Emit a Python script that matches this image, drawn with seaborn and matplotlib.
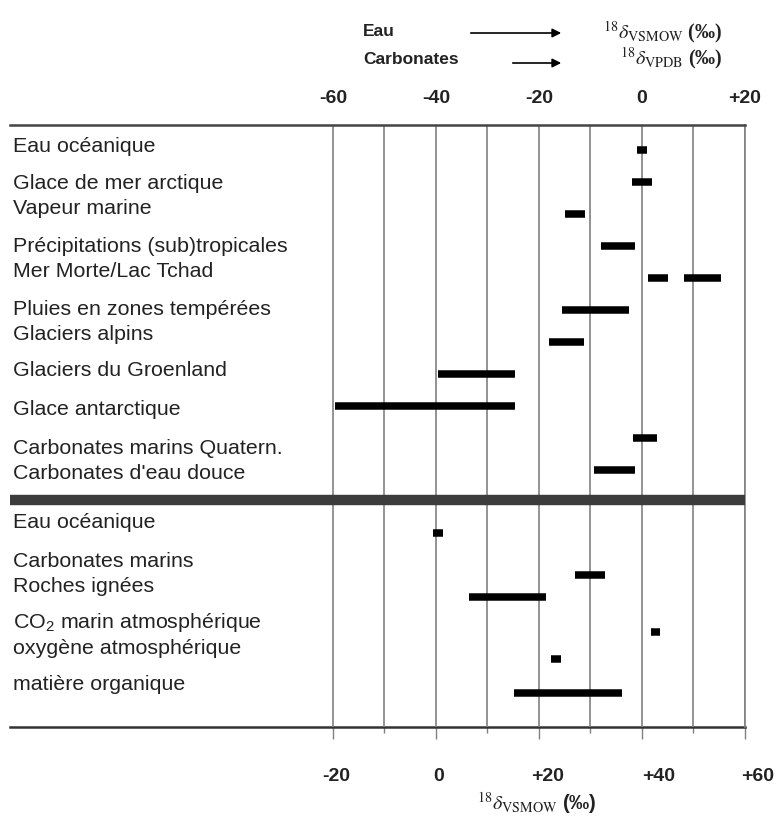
import numpy as np
import pandas as pd
import matplotlib
matplotlib.use("Agg")
import matplotlib.pyplot as plt
import matplotlib.transforms as mtransforms
import seaborn as sns

# ---------------- data ----------------
# upper block: waters (VSMOW) and carbonates (VPDB), top scale
upper_labels = ["Eau océanique", "Glace de mer arctique", "Vapeur marine",
                "Précipitations (sub)tropicales", "Mer Morte/Lac Tchad",
                "Pluies en zones tempérées", "Glaciers alpins",
                "Glaciers du Groenland", "Glace antarctique",
                "Carbonates marins Quatern.", "Carbonates d'eau douce"]
# one entry per bar segment (Mer Morte/Lac Tchad has two ranges)
upper_seg_labels = ["Eau océanique", "Glace de mer arctique", "Vapeur marine",
                    "Précipitations (sub)tropicales", "Mer Morte/Lac Tchad",
                    "Mer Morte/Lac Tchad", "Pluies en zones tempérées",
                    "Glaciers alpins", "Glaciers du Groenland", "Glace antarctique",
                    "Carbonates marins Quatern.", "Carbonates d'eau douce"]
upper_seg_low = [-1.0, -2.0, -15.0, -8.0, 1.2, 8.2, -15.5, -18.0, -39.6, -59.6, -1.7, -9.3]
upper_seg_high = [1.0, 2.0, -11.0, -1.4, 5.0, 15.3, -2.5, -11.2, -24.7, -24.7, 3.0, -1.4]

# lower block: bottom scale (VSMOW)
lower_labels = ["Eau océanique", "Carbonates marins", "Roches ignées",
                r"CO$_2$ marin atmosphérique", "oxygène atmosphérique",
                "matière organique"]
lower_low = [-0.5, 27.0, 6.4, 41.7, 22.3, 15.1]
lower_high = [1.3, 32.8, 21.3, 43.5, 24.3, 36.1]

top_ticks = [-60, -40, -20, 0, 20]
top_ticklabels = ["-60", "-40", "-20", "0", "+20"]
top_minor = [-50, -30, -10, 10]
bottom_ticks = [-20, 0, 20, 40, 60]
bottom_ticklabels = ["-20", "0", "+20", "+40", "+60"]
bottom_minor = [-10, 10, 30, 50]
scale_offset = 40  # bottom scale value = top scale value + 40

# ---------------- layout ----------------
upper_bar_rows = [1, 2, 3, 4, 5, 6, 7, 8, 9, 10, 11]
upper_label_rows = [0.84, 2.0, 2.78, 3.97, 4.75, 5.91, 6.69, 7.84, 9.06, 10.28, 11.06]
lower_bar_rows = [12.97, 14.28, 14.97, 16.06, 16.9, 17.97]
lower_label_rows = [12.59, 13.81, 14.59, 15.69, 16.53, 17.63]
separator_row = 11.94

recs = []
for i, (lab, lo, hi) in enumerate(zip(upper_seg_labels, upper_seg_low, upper_seg_high)):
    r = upper_bar_rows[upper_labels.index(lab)]
    recs.append(dict(seg=f"u{i}", x=lo, y=r))
    recs.append(dict(seg=f"u{i}", x=hi, y=r))
for i, (lo, hi) in enumerate(zip(lower_low, lower_high)):
    r = lower_bar_rows[i]
    recs.append(dict(seg=f"l{i}", x=lo - scale_offset, y=r))
    recs.append(dict(seg=f"l{i}", x=hi - scale_offset, y=r))
df = pd.DataFrame(recs)

# ---------------- style ----------------
sns.set_style("white")
plt.rcParams["font.family"] = ["Liberation Sans", "DejaVu Sans"]
plt.rcParams["mathtext.fontset"] = "custom"
plt.rcParams["mathtext.rm"] = "Liberation Sans"
plt.rcParams["mathtext.it"] = "Liberation Sans:italic"
plt.rcParams["mathtext.bf"] = "Liberation Sans:bold"

W, H = 778, 822
fig = plt.figure(figsize=(W / 100, H / 100), dpi=100)
ax = fig.add_axes([10 / W, 1 - 727 / H, 735 / W, (727 - 125) / H])

sns.lineplot(data=df, x="x", y="y", units="seg", estimator=None, sort=False,
             color="black", linewidth=5.4, solid_capstyle="butt", ax=ax,
             legend=False, zorder=4)

ax.set_xlim(-122.7, 20)
ax.set_ylim(19.03, 0.22)
ax.set_xlabel("")
ax.set_ylabel("")
ax.set_yticks([])

ax.xaxis.tick_top()
ax.set_xticks(top_ticks)
ax.set_xticklabels(top_ticklabels, fontweight="bold", fontsize=14, color="#222222")
ax.set_xticks(top_minor, minor=True)
ax.tick_params(axis="x", which="both", length=0, pad=13, top=True, bottom=False,
               labeltop=True, labelbottom=False)
ax.grid(axis="x", which="both", color="#808080", lw=1.2)
ax.set_axisbelow(True)

ax.spines["left"].set_visible(False)
ax.spines["bottom"].set_visible(False)
ax.spines["top"].set_color("#444444")
ax.spines["top"].set_linewidth(1.8)
ax.spines["right"].set_color("#808080")
ax.spines["right"].set_linewidth(1.2)

ax.axhline(separator_row, color="#3c3c3c", lw=7.5, zorder=3)

# category labels
lab_tr = mtransforms.blended_transform_factory(ax.transAxes, ax.transData)
for lab, r in zip(upper_labels + lower_labels, upper_label_rows + lower_label_rows):
    ax.text(0.0037, r + 0.233, lab, transform=lab_tr, ha="left", va="baseline",
            fontsize=15.4, color="#222222")

# bottom scale
sec = ax.secondary_xaxis("bottom", functions=(lambda x: x + scale_offset,
                                                lambda x: x - scale_offset))
sec.set_xticks(bottom_ticks)
sec.set_xticklabels(bottom_ticklabels, fontweight="bold", fontsize=14, color="#222222")
sec.set_xticks(bottom_minor, minor=True)
sec.tick_params(which="major", length=8.6, width=1.0, color="#808080", pad=21)
sec.tick_params(which="minor", length=4.3, width=1.0, color="#808080")
sec.spines["bottom"].set_color("#333333")
sec.spines["bottom"].set_linewidth(1.8)
label_shift = [3, 3, 9, 17, 13]
for t, s in zip(sec.xaxis.get_majorticklabels(), label_shift):
    t.set_transform(t.get_transform() + mtransforms.ScaledTranslation(s / 100, 0, fig.dpi_scale_trans))

fig.text(537 / W, 1 - 803 / H, r"$^{18}\delta_{\mathrm{VSMOW}}$ (‰)", ha="center", va="center",
         fontsize=14.5, fontweight="bold", color="#222222", math_fontfamily="stix")

# top legend
fig.text(363 / W, 1 - 32 / H, "Eau", ha="left", va="center", fontsize=12.5,
         fontweight="bold", color="#222222")
fig.text(363 / W, 1 - 59 / H, "Carbonates", ha="left", va="center", fontsize=12.5,
         fontweight="bold", color="#222222")
fig.add_artist(matplotlib.patches.FancyArrowPatch(
    (468 / W, 1 - 33 / H), (564 / W, 1 - 33 / H), transform=fig.transFigure,
    arrowstyle="-|>", mutation_scale=13, color="black", lw=1.2))
fig.add_artist(matplotlib.patches.FancyArrowPatch(
    (510 / W, 1 - 63 / H), (564 / W, 1 - 63 / H), transform=fig.transFigure,
    arrowstyle="-|>", mutation_scale=13, color="black", lw=1.2))
fig.text(603 / W, 1 - 32 / H, r"$^{18}\delta_{\mathrm{VSMOW}}$ (‰)", ha="left", va="center",
         fontsize=14.5, fontweight="bold", family="Liberation Serif", color="#222222",
         math_fontfamily="stix")
fig.text(620 / W, 1 - 58 / H, r"$^{18}\delta_{\mathrm{VPDB}}$ (‰)", ha="left", va="center",
         fontsize=14.5, fontweight="bold", family="Liberation Serif", color="#222222",
         math_fontfamily="stix")

fig.savefig("out.png", dpi=100)
